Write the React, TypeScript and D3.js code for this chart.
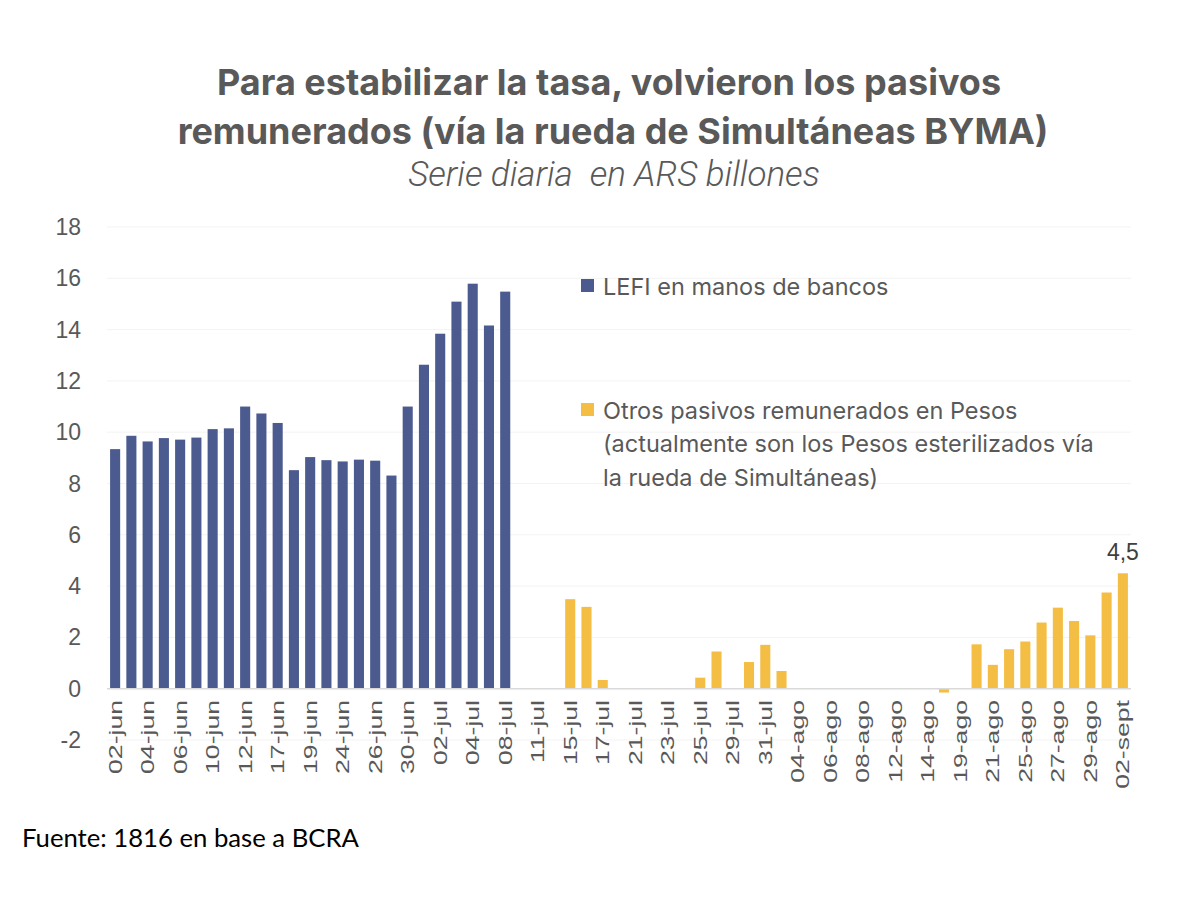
import React from "react";
import * as d3 from "d3";

const categories = [
  "02-jun","03-jun","04-jun","05-jun","06-jun","09-jun","10-jun","11-jun","12-jun","13-jun",
  "17-jun","18-jun","19-jun","23-jun","24-jun","25-jun","26-jun","27-jun","30-jun","01-jul",
  "02-jul","03-jul","04-jul","07-jul","08-jul","10-jul","11-jul","14-jul","15-jul","16-jul",
  "17-jul","18-jul","21-jul","22-jul","23-jul","24-jul","25-jul","28-jul","29-jul","30-jul",
  "31-jul","01-ago","04-ago","05-ago","06-ago","07-ago","08-ago","11-ago","12-ago","13-ago",
  "14-ago","18-ago","19-ago","20-ago","21-ago","22-ago","25-ago","26-ago","27-ago","28-ago",
  "29-ago","01-sept","02-sept"
];

// LEFI en manos de bancos (first 25 days)
const lefiValues = [
  9.34, 9.86, 9.64, 9.77, 9.71, 9.79, 10.12, 10.15, 11.0, 10.73,
  10.36, 8.52, 9.03, 8.91, 8.86, 8.93, 8.89, 8.31, 11.0, 12.63,
  13.84, 15.09, 15.79, 14.16, 15.48
];

// Otros pasivos remunerados en Pesos (by category)
const otrosCategories = [
  "15-jul","16-jul","17-jul","25-jul","28-jul","30-jul","31-jul","01-ago","18-ago",
  "20-ago","21-ago","22-ago","25-ago","26-ago","27-ago","28-ago","29-ago","01-sept","02-sept"
];
const otrosValues = [
  3.49, 3.19, 0.34, 0.43, 1.45, 1.04, 1.71, 0.69, -0.15,
  1.73, 0.93, 1.54, 1.84, 2.58, 3.16, 2.64, 2.08, 3.75, 4.5
];

const yTicks = [-2, 0, 2, 4, 6, 8, 10, 12, 14, 16, 18];

const BLUE = "#4B5A8F";
const YELLOW = "#F4BE45";
const GRAY = "#595959";

export default function App() {
  const W = 1179, H = 901;
  const x = d3.scaleBand<string>().domain(categories).range([107, 1131]).paddingInner(0.38).paddingOuter(0.19);
  const y = d3.scaleLinear().domain([-2, 18]).range([740, 227]);
  const bw = x.bandwidth();

  return (
    <svg width={W} height={H} style={{ position: "absolute", left: 0, top: 0, background: "#fff" }}>
      <rect x={0} y={0} width={W} height={H} fill="#fff" />
      {/* Title */}
      <g fontFamily="Inter, 'Open Sans', sans-serif" fontWeight={700} fill={GRAY} textAnchor="middle">
        <text x={609} y={95} fontSize={36}>Para estabilizar la tasa, volvieron los pasivos</text>
        <text x={613} y={144} fontSize={36}>remunerados (vía la rueda de Simultáneas BYMA)</text>
      </g>
      <text x={614} y={186} fontSize={35} fontStyle="italic" fontWeight={300} fill={GRAY} textAnchor="middle"
        fontFamily="Roboto, sans-serif" style={{ whiteSpace: "pre" }}>Serie diaria  en ARS billones</text>

      {/* gridlines */}
      {yTicks.filter(t => t !== 0).map(t => (
        <line key={t} x1={107} x2={1131} y1={y(t)} y2={y(t)} stroke="#f3f3f3" strokeWidth={1} />
      ))}

      {/* y tick labels */}
      <g fontFamily="'Liberation Sans', Arial, sans-serif" fontSize={23} fill={GRAY} textAnchor="end">
        {yTicks.map(t => (
          <text key={t} x={81} y={y(t) + 8}>{t}</text>
        ))}
      </g>

      {/* bars */}
      {lefiValues.map((v, i) => (
        <rect key={"l" + i} x={x(categories[i])!} width={bw} y={y(Math.max(0, v))} height={Math.abs(y(v) - y(0))} fill={BLUE} />
      ))}
      {otrosValues.map((v, i) => (
        <rect key={"o" + i} x={x(otrosCategories[i])!} width={bw} y={y(Math.max(0, v))} height={Math.abs(y(v) - y(0))} fill={YELLOW} />
      ))}

      {/* baseline */}
      <line x1={107} x2={1131} y1={y(0)} y2={y(0)} stroke="#d9d9d9" strokeWidth={1.5} />

      {/* x labels */}
      <g fontFamily="'Liberation Sans', Arial, sans-serif" fontSize={19} fill={GRAY} textAnchor="end">
        {categories.filter((_, i) => i % 2 === 0).map(c => (
          <text key={c} transform={`translate(${x(c)! + bw / 2 + 6.5},${700}) rotate(-90) scale(1.4,1)`}>{c}</text>
        ))}
      </g>

      {/* data label */}
      <text x={x("02-sept")! + bw / 2} y={y(4.5) - 13} fontSize={23} fill="#404040" textAnchor="middle"
        fontFamily="'Liberation Sans', Arial, sans-serif">4,5</text>

      {/* legend */}
      <g fontFamily="Inter, 'Open Sans', sans-serif" fontSize={23.5} fill={GRAY}>
        <rect x={581} y={279} width={13} height={13} fill={BLUE} />
        <text x={603} y={295}>LEFI en manos de bancos</text>
        <rect x={581} y={403} width={13} height={13} fill={YELLOW} />
        <text x={603} y={419}>Otros pasivos remunerados en Pesos</text>
        <text x={603} y={452}>(actualmente son los Pesos esterilizados vía</text>
        <text x={603} y={486}>la rueda de Simultáneas)</text>
      </g>

      {/* source */}
      <text x={22} y={847} fontSize={25.7} fill="#000" fontFamily="Lato, 'Open Sans', sans-serif">Fuente: 1816 en base a BCRA</text>
    </svg>
  );
}
